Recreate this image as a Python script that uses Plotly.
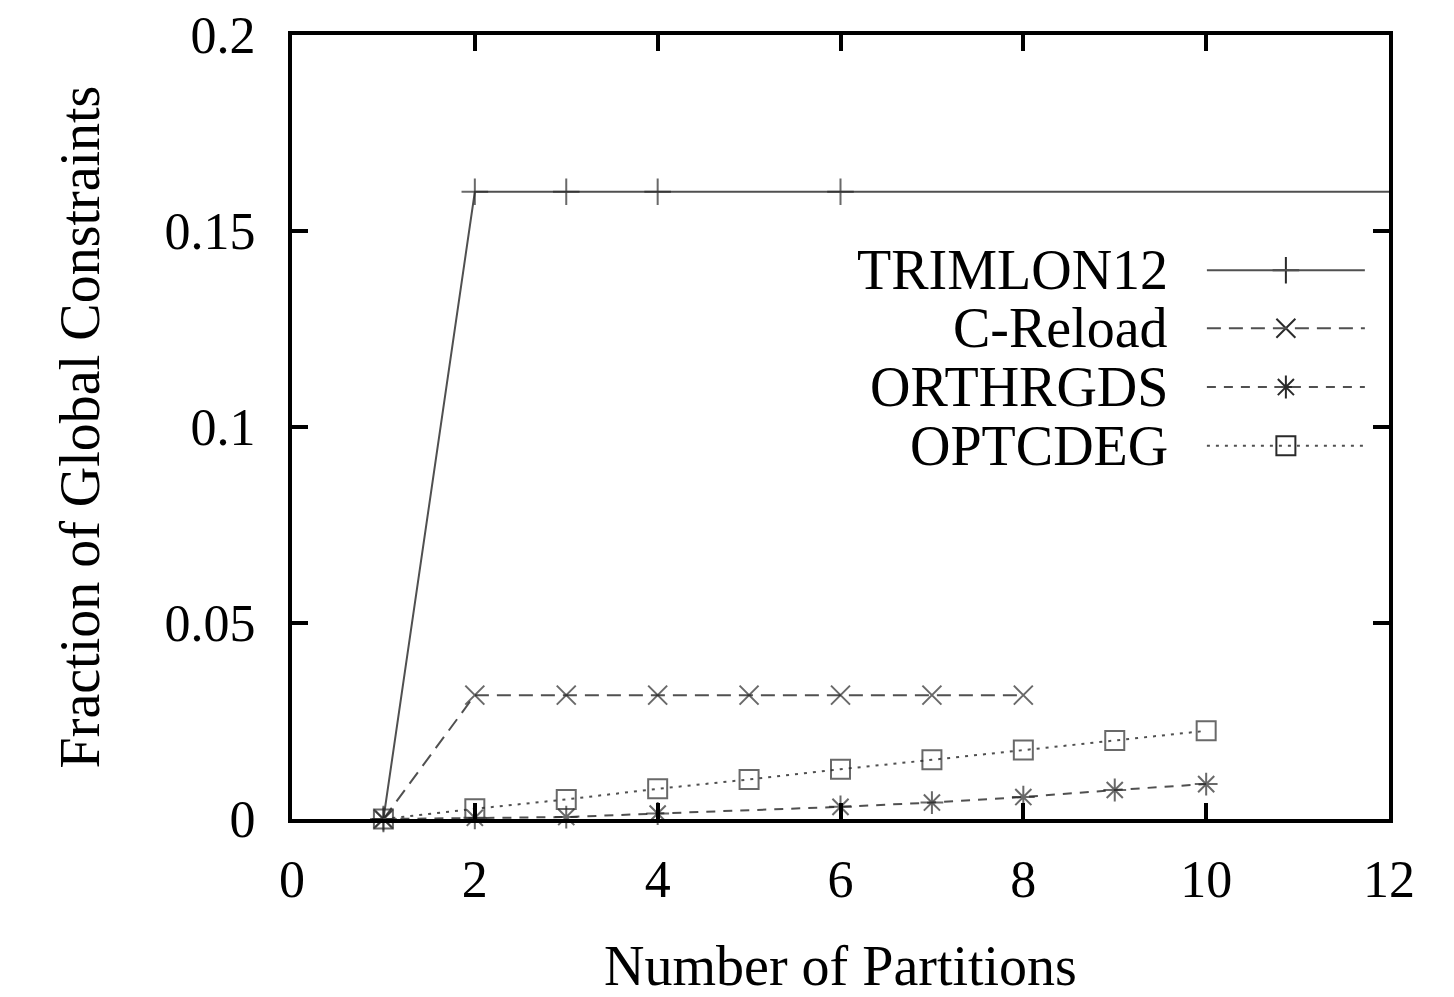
import plotly.graph_objects as go

# ---- data ----
trim_x = [1, 2, 3, 4, 6, 12.1]
trim_y = [0.0, 0.16, 0.16, 0.16, 0.16, 0.16]

creload_x = [1, 2, 3, 4, 5, 6, 7, 8]
creload_y = [0.0, 0.0316, 0.0316, 0.0316, 0.0316, 0.0316, 0.0316, 0.0316]

orth_x = [1, 2, 3, 4, 6, 7, 8, 9, 10]
orth_y = [0.0, 0.0003, 0.0005, 0.0014, 0.0031, 0.0042, 0.0056, 0.0074, 0.0089]

optc_x = [1, 2, 3, 4, 5, 6, 7, 8, 9, 10]
optc_y = [0.0, 0.0026, 0.005, 0.0077, 0.0101, 0.0127, 0.0151, 0.0176, 0.0200, 0.0225]

names = ["TRIMLON12", "C-Reload", "ORTHRGDS", "OPTCDEG"]
symbols = ["cross-thin-open", "x-thin-open", "asterisk-open", "square-open"]
dashes = ["solid", "14px,8px", "9px,8px", "3px,6px"]

x_ticks = [0, 2, 4, 6, 8, 10, 12]
y_ticks = [0, 0.05, 0.1, 0.15, 0.2]
y_tick_text = ["0", "0.05", "0.1", "0.15", "0.2"]

FONT = "Liberation Serif, Times New Roman, serif"
LINE_C = "#505050"
MARK_C = "#2a2a2a"

fig = go.Figure()

series = [(trim_x, trim_y), (creload_x, creload_y), (orth_x, orth_y), (optc_x, optc_y)]
for i, (xs, ys) in enumerate(series):
    sizes = [19] * len(xs)
    if i == 0:
        sizes[-1] = 0
    fig.add_trace(go.Scatter(
        x=xs, y=ys, mode="lines+markers", name=names[i],
        line=dict(color=LINE_C, width=2, dash=dashes[i]),
        marker=dict(symbol=symbols[i], size=sizes, color=MARK_C,
                    line=dict(color=MARK_C, width=2)),
        showlegend=False, cliponaxis=False,
    ))

# ---- manual gnuplot-style key (text left of sample) ----
key_y = [0.700, 0.626, 0.551, 0.476]
key_text_x = 0.800
key_line_x0, key_line_x1, key_mark_x = 0.834, 0.978, 0.906
for i, n in enumerate(names):
    fig.add_annotation(x=key_text_x, y=key_y[i], xref="paper", yref="paper",
                       text=n, showarrow=False, xanchor="right", yanchor="middle",
                       font=dict(family=FONT, size=56, color="black"))
    fig.add_shape(type="line", xref="paper", yref="paper",
                  x0=key_line_x0, x1=key_line_x1, y0=key_y[i], y1=key_y[i],
                  line=dict(color=LINE_C, width=2, dash=dashes[i]))
    fig.add_trace(go.Scatter(
        x=[key_mark_x], y=[key_y[i]], xaxis="x2", yaxis="y2", mode="markers",
        marker=dict(symbol=symbols[i], size=19, color=MARK_C,
                    line=dict(color=MARK_C, width=2)),
        showlegend=False, hoverinfo="skip",
    ))

axis_common = dict(
    showline=True, linecolor="black", linewidth=4, mirror="ticks",
    ticks="inside", ticklen=16, tickwidth=4, tickcolor="black",
    showgrid=False, zeroline=False, automargin=False,
    tickfont=dict(family=FONT, size=52, color="black"),
)

fig.update_layout(
    width=1454, height=997,
    margin=dict(l=292, r=65, t=35, b=178),
    paper_bgcolor="white", plot_bgcolor="white",
    font=dict(family=FONT, color="black"),
    xaxis=dict(range=[0, 12], tickvals=x_ticks, ticktext=[str(v) for v in x_ticks],
               ticklabelstandoff=12,
               title=dict(text="Number of Partitions", font=dict(family=FONT, size=56), standoff=42),
               **axis_common),
    yaxis=dict(range=[0, 0.2], tickvals=y_ticks, ticktext=y_tick_text,
               ticklabelstandoff=22,
               title=dict(text="Fraction of Global Constraints", font=dict(family=FONT, size=56), standoff=48),
               **axis_common),
    xaxis2=dict(range=[0, 1], overlaying="x", visible=False, anchor="y2"),
    yaxis2=dict(range=[0, 1], overlaying="y", visible=False, anchor="x2"),
)

fig.write_html("out.html")
